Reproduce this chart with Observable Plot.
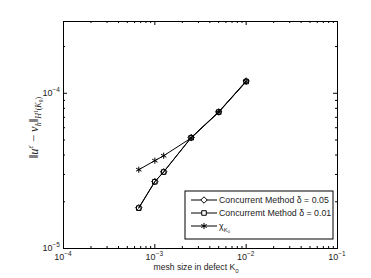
<!DOCTYPE html>
<html><head><meta charset="utf-8">
<script src="https://cdn.jsdelivr.net/npm/d3@7"></script>
<script src="https://cdn.jsdelivr.net/npm/@observablehq/plot@0.6"></script>
<style>body{margin:0;background:#fff}</style>
</head><body><div id="chart"></div>
<script>
// ---- data ----
const meshSize    = [6.67e-4, 1.0e-3, 1.25e-3, 2.5e-3, 5.0e-3, 1.0e-2];
const errDelta005 = [1.83e-5, 2.70e-5, 3.12e-5, 5.19e-5, 7.59e-5, 1.20e-4];
const errDelta001 = [1.82e-5, 2.69e-5, 3.11e-5, 5.17e-5, 7.57e-5, 1.19e-4];
const errChi      = [3.22e-5, 3.68e-5, 3.96e-5, 5.15e-5, 7.55e-5, 1.19e-4];
const seriesNames = ["Concurrent Method δ = 0.05", "Concurremt Method δ = 0.01", "χ"];
const seriesSymbols = ["diamond2", "square2", "asterisk"];
const xMajor = [1e-4, 1e-3, 1e-2, 1e-1];
const xMajorExp = ["−4", "−3", "−2", "−1"];
const yMajor = [1e-5, 1e-4];
const yMajorExp = ["−5", "−4"];
const xDomain = [1e-4, 1e-1];
const yDomain = [1e-5, 2.9e-4];

// ---- layout ----
const W = 371, H = 278, mL = 63, mR = 34, mT = 21, mB = 30;
const ih = H - mT - mB, iw = W - mL - mR;
const font = "Liberation Sans, Arial, Helvetica, sans-serif";

const isMajor = v => Math.abs(Math.log10(v) - Math.round(Math.log10(v))) < 1e-9;
const xMinor = d3.scaleLog().domain(xDomain).ticks().filter(v => !isMajor(v));
const yMinor = d3.scaleLog().domain(yDomain).ticks().filter(v => !isMajor(v));

const rows = [];
[errDelta005, errDelta001, errChi].forEach((vals, s) =>
  meshSize.forEach((m, i) => rows.push({s, x: m, y: vals[i]})));

const plot = Plot.plot({
  width: W, height: H,
  marginLeft: mL, marginRight: mR, marginTop: mT, marginBottom: mB,
  style: {fontFamily: font, fontSize: "9px", background: "white", overflow: "visible"},
  x: {type: "log", domain: xDomain, axis: null},
  y: {type: "log", domain: yDomain, axis: null},
  symbol: {domain: [0, 1, 2], range: seriesSymbols},
  marks: [
    // inward ticks, all four sides
    Plot.tickX(xMinor, {x: d => d, insetTop: ih - 2, stroke: "black"}),
    Plot.tickX(xMinor, {x: d => d, insetBottom: ih - 2, stroke: "black"}),
    Plot.tickX(xMajor, {x: d => d, insetTop: ih - 4, stroke: "black"}),
    Plot.tickX(xMajor, {x: d => d, insetBottom: ih - 4, stroke: "black"}),
    Plot.tickY(yMinor, {y: d => d, insetRight: iw - 2, stroke: "black"}),
    Plot.tickY(yMinor, {y: d => d, insetLeft: iw - 2, stroke: "black"}),
    Plot.tickY(yMajor, {y: d => d, insetRight: iw - 4, stroke: "black"}),
    Plot.tickY(yMajor, {y: d => d, insetLeft: iw - 4, stroke: "black"}),
    Plot.line(rows, {x: "x", y: "y", z: "s", stroke: "black", strokeWidth: 1}),
    Plot.dot(rows, {x: "x", y: "y", symbol: "s", r: 2.9, stroke: "black", fill: "none", strokeWidth: 1}),
    Plot.frame({stroke: "black", strokeWidth: 1})
  ]
});

const svg = d3.select(plot);
const xs = plot.scale("x"), ys = plot.scale("y");

// tick labels with superscript exponents
xMajor.forEach((v, i) => {
  const t = svg.append("text").attr("x", xs.apply(v)).attr("y", H - mB + 11.5)
    .attr("text-anchor", "middle").attr("font-family", font).attr("font-size", 9).attr("fill", "#222");
  t.append("tspan").text("10");
  t.append("tspan").attr("dy", -4).attr("font-size", 6.5).text(xMajorExp[i]);
});
yMajor.forEach((v, i) => {
  const t = svg.append("text").attr("x", mL - 3).attr("y", ys.apply(v) + 3)
    .attr("text-anchor", "end").attr("font-family", font).attr("font-size", 9).attr("fill", "#222");
  t.append("tspan").text("10");
  t.append("tspan").attr("dy", -4).attr("font-size", 6.5).text(yMajorExp[i]);
});

// x label
{
  const t = svg.append("text").attr("x", mL + iw / 2 - 4).attr("y", H - 8)
    .attr("text-anchor", "middle").attr("font-family", font).attr("font-size", 8.6).attr("fill", "#222");
  t.append("tspan").text("mesh size in defect K");
  t.append("tspan").attr("dy", 2.5).attr("font-size", 6).text("0");
}
// y label (math)
{
  const g = svg.append("g").attr("transform", `translate(38,${mT + ih / 2 - 7}) rotate(-90)`);
  const t = g.append("text").attr("text-anchor", "middle")
    .attr("font-family", "Liberation Serif, DejaVu Serif, serif").attr("font-size", 12.5).attr("fill", "#222");
  t.append("tspan").text("‖");
  t.append("tspan").attr("font-style", "italic").text("u");
  t.append("tspan").attr("dy", -5).attr("font-size", 8).attr("font-style", "italic").text("ε");
  t.append("tspan").attr("dy", 5).text(" − ");
  t.append("tspan").attr("font-style", "italic").text("v");
  t.append("tspan").attr("dy", 3).attr("font-size", 8).attr("font-style", "italic").text("h");
  t.append("tspan").attr("dy", -3).text("‖");
  t.append("tspan").attr("dy", 3).attr("font-size", 8).attr("font-style", "italic").text("H");
  t.append("tspan").attr("dy", -3).attr("font-size", 5.5).text("1");
  t.append("tspan").attr("dy", 3).attr("font-size", 8).text("(");
  t.append("tspan").attr("font-size", 8).attr("font-style", "italic").text("K");
  t.append("tspan").attr("dy", 1.5).attr("font-size", 5.5).text("0");
  t.append("tspan").attr("dy", -1.5).attr("font-size", 8).text(")");
}

// legend box (lower right inside the axes)
{
  const bx = mL + iw - 152, by = mT + ih - 57, bw = 148, bh = 48;
  const lg = svg.append("g");
  lg.append("rect").attr("x", bx).attr("y", by).attr("width", bw).attr("height", bh)
    .attr("fill", "white").attr("stroke", "black").attr("stroke-width", 1);
  const symMap = {diamond2: d3.symbolDiamond2, square2: d3.symbolSquare2, asterisk: d3.symbolAsterisk};
  seriesNames.forEach((name, i) => {
    const yy = by + 9 + i * 13;
    lg.append("line").attr("x1", bx + 6).attr("x2", bx + 32).attr("y1", yy).attr("y2", yy)
      .attr("stroke", "black");
    lg.append("path").attr("transform", `translate(${bx + 19},${yy})`)
      .attr("d", d3.symbol(symMap[seriesSymbols[i]], 2.9 * 2.9 * Math.PI)())
      .attr("fill", "white").attr("stroke", "black");
    const t = lg.append("text").attr("x", bx + 34).attr("y", yy + 3).attr("text-anchor", "start")
      .attr("font-family", font).attr("font-size", 8.8).attr("fill", "#222");
    t.append("tspan").text(name);
    if (i === 2) {
      t.append("tspan").attr("dy", 2.5).attr("font-size", 6).text("K");
      t.append("tspan").attr("dy", 1.5).attr("font-size", 4).text("0");
    }
  });
}

document.getElementById("chart").append(plot);
</script>
</body></html>
